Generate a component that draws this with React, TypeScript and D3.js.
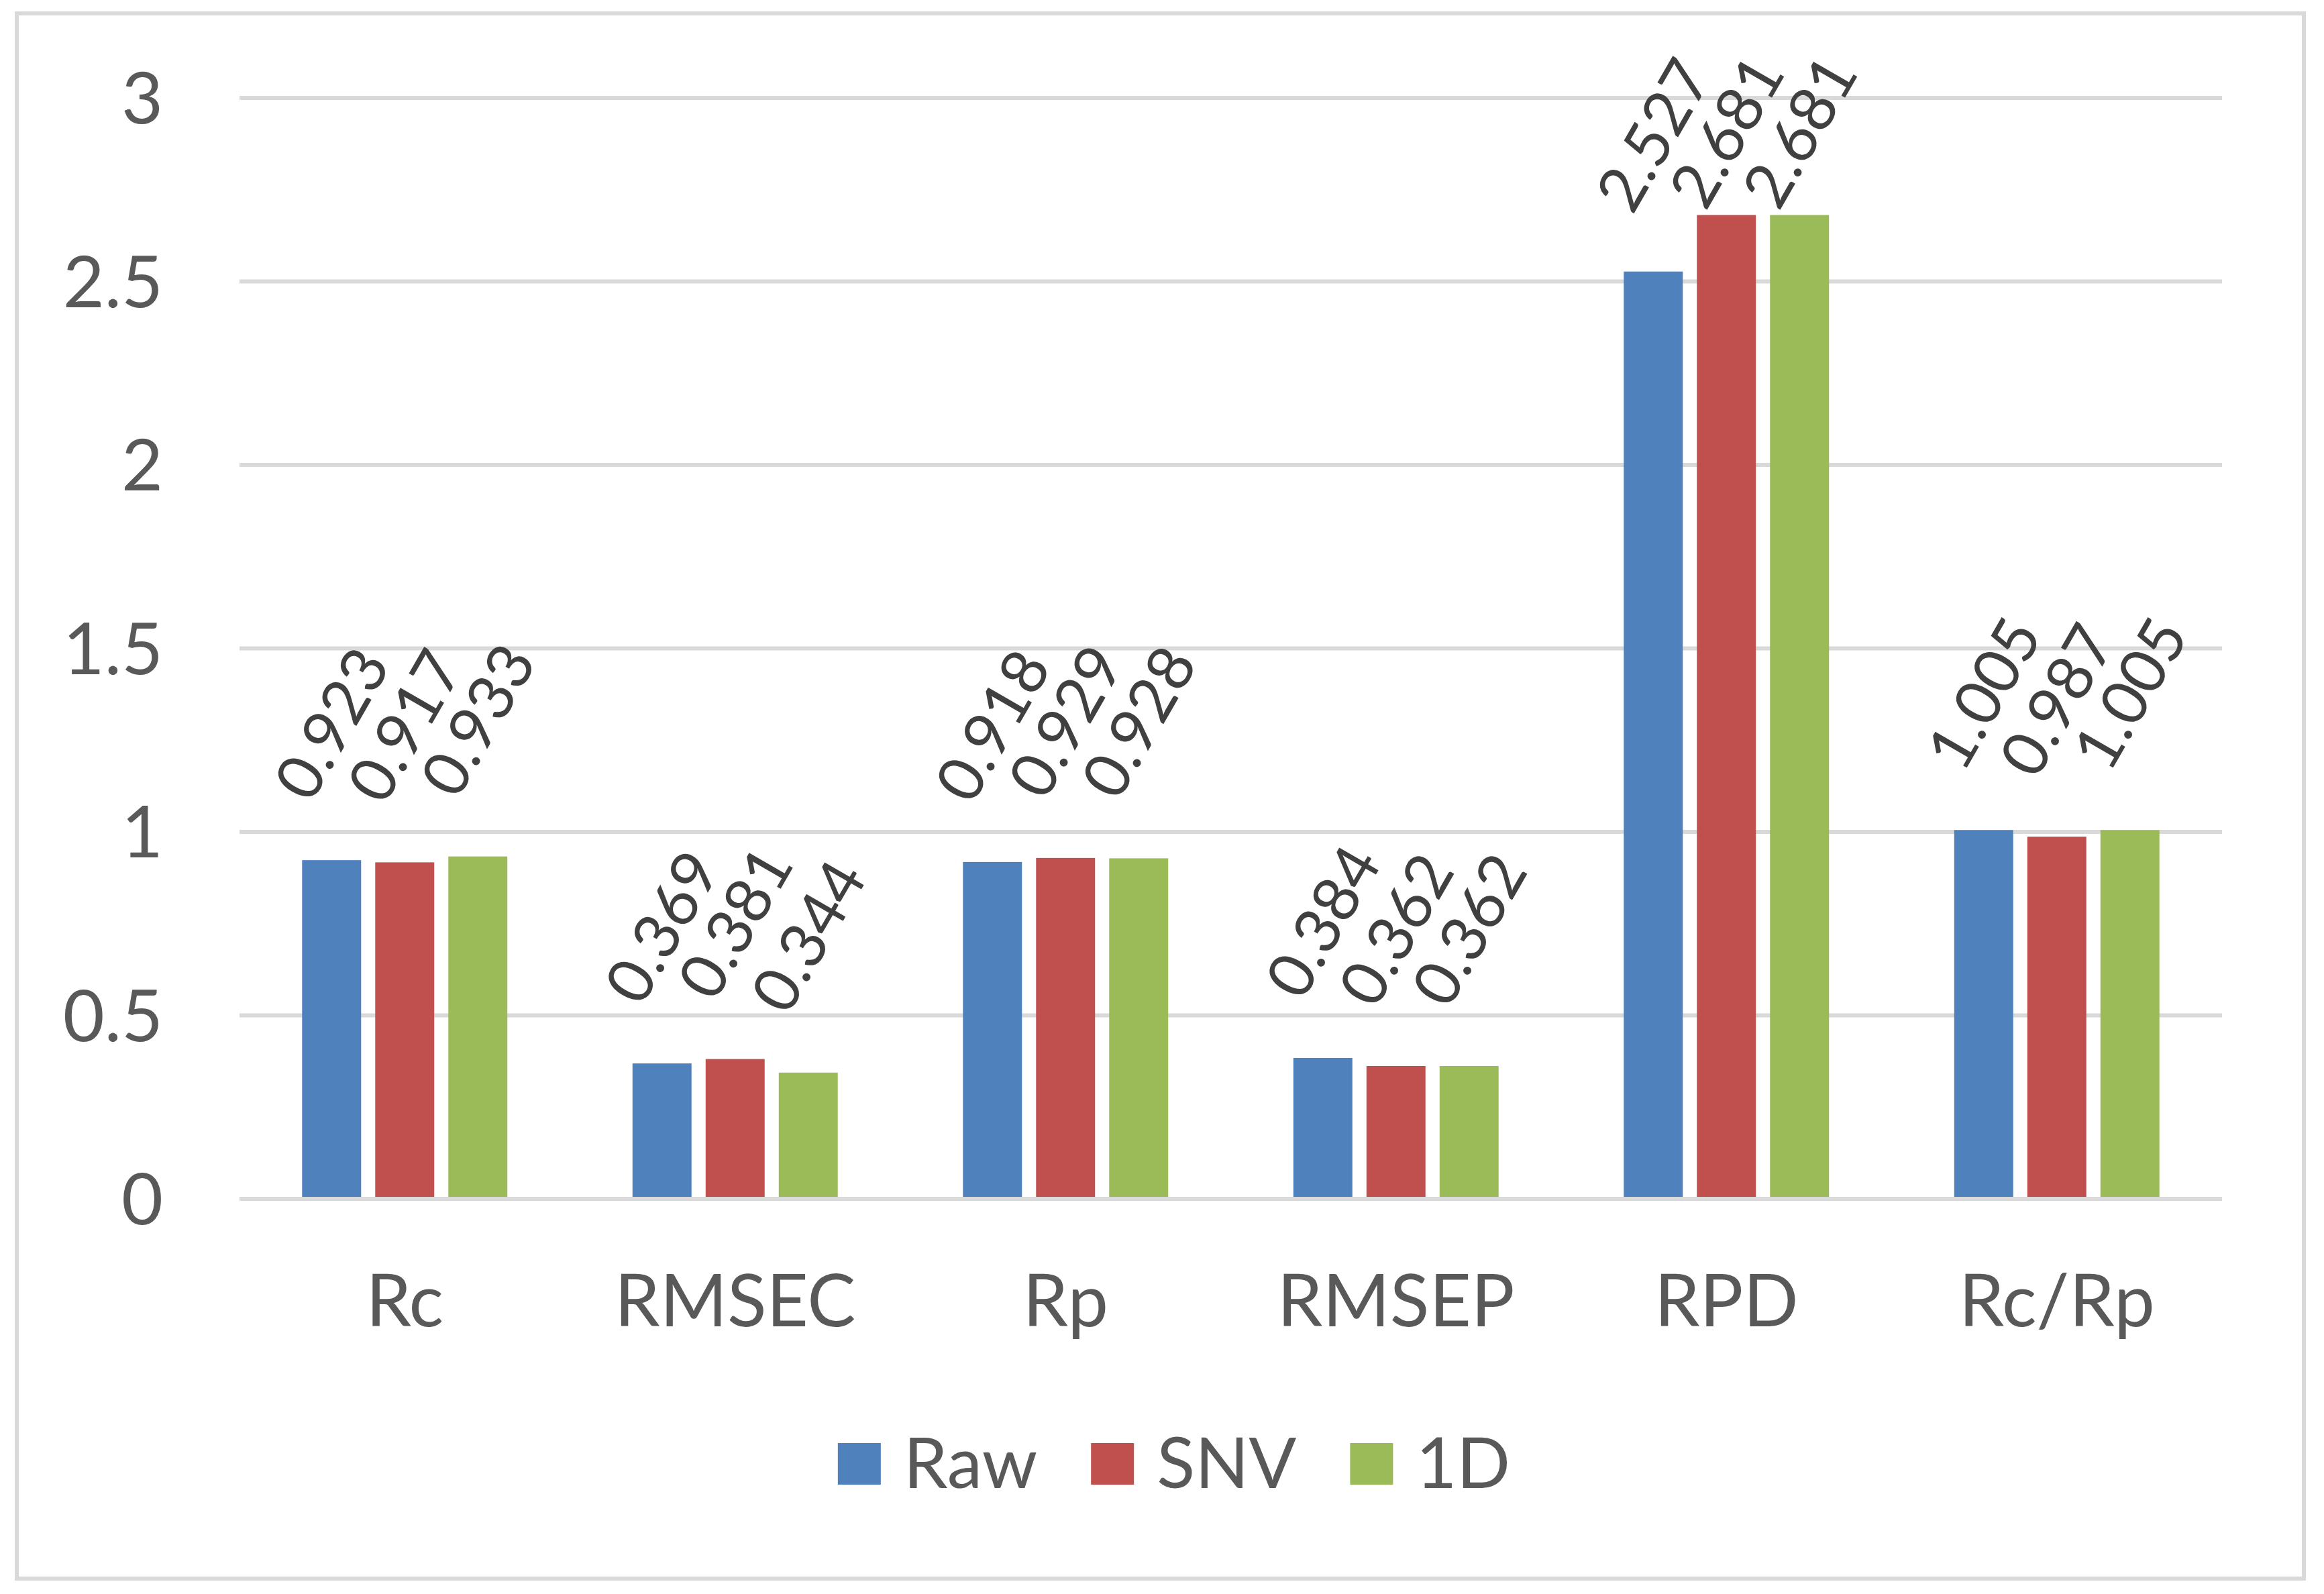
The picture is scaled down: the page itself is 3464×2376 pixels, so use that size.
import React, { useEffect, useRef } from 'react';
import * as d3 from 'd3';

const categories = ['Rc', 'RMSEC', 'Rp', 'RMSEP', 'RPD', 'Rc/Rp'];
const seriesNames = ['Raw', 'SNV', '1D'];
const rawValues = [0.923, 0.369, 0.918, 0.384, 2.527, 1.005];
const snvValues = [0.917, 0.381, 0.929, 0.362, 2.681, 0.987];
const d1Values = [0.933, 0.344, 0.928, 0.362, 2.681, 1.005];
const yTicks = [0, 0.5, 1, 1.5, 2, 2.5, 3];

const colors = ['#4F81BD', '#C0504D', '#9BBB59'];

const WIDTH = 3464;
const HEIGHT = 2376;

export default function App() {
  const svgRef = useRef<SVGSVGElement>(null);

  useEffect(() => {
    const svg = d3.select(svgRef.current);
    svg.selectAll('*').remove();

    const font = 'Lato, "Open Sans", sans-serif';
    const textColor = '#595959';
    const gridColor = '#D9D9D9';

    const plot = { left: 357, right: 3312, top: 146, bottom: 1787 };
    const values = [rawValues, snvValues, d1Values];

    const x0 = d3.scaleBand<string>()
      .domain(categories)
      .range([plot.left, plot.right])
      .padding(0);

    const x1 = d3.scaleBand<string>()
      .domain(seriesNames)
      .range([0, x0.bandwidth()])
      .paddingInner(0.193)
      .paddingOuter(0.856);

    const y = d3.scaleLinear()
      .domain([0, 3])
      .range([plot.bottom, plot.top]);

    // background + chart frame
    svg.append('rect')
      .attr('width', WIDTH)
      .attr('height', HEIGHT)
      .attr('fill', '#ffffff');

    svg.append('rect')
      .attr('x', 25)
      .attr('y', 20)
      .attr('width', 3434 - 25)
      .attr('height', 2353 - 20)
      .attr('fill', 'none')
      .attr('stroke', gridColor)
      .attr('stroke-width', 6);

    // gridlines
    svg.append('g')
      .selectAll('line')
      .data(yTicks)
      .join('line')
      .attr('x1', plot.left)
      .attr('x2', plot.right)
      .attr('y1', d => y(d))
      .attr('y2', d => y(d))
      .attr('stroke', gridColor)
      .attr('stroke-width', 6);

    // y tick labels
    svg.append('g')
      .selectAll('text')
      .data(yTicks)
      .join('text')
      .attr('x', plot.left - 114)
      .attr('y', d => y(d))
      .attr('dy', '0.358em')
      .attr('text-anchor', 'end')
      .style('font-family', font)
      .style('font-size', '107px')
      .style('fill', textColor)
      .text(d => String(d));

    // bars
    const groups = svg.append('g')
      .selectAll('g')
      .data(categories)
      .join('g')
      .attr('transform', d => `translate(${x0(d)},0)`);

    groups.selectAll('rect')
      .data((_, i) => seriesNames.map((s, k) => ({ s, v: values[k][i], k })))
      .join('rect')
      .attr('x', d => x1(d.s) as number)
      .attr('width', x1.bandwidth())
      .attr('y', d => y(d.v))
      .attr('height', d => y(0) - 3 - y(d.v))
      .attr('fill', d => colors[d.k]);

    // data labels, rotated 60deg
    const labelSize = 94;
    const fmt = d3.format('.3f');
    const angle = 60;
    const rad = (angle * Math.PI) / 180;
    const minTop = 78;
    const gap = 86;

    groups.each(function (cat, i) {
      const g = d3.select(this);
      seriesNames.forEach((s, k) => {
        const v = values[k][i];
        const cx = (x1(s) as number) + x1.bandwidth() / 2;
        const t = g.append('text')
          .attr('text-anchor', 'middle')
          .attr('dy', '0.358em')
          .style('font-family', font)
          .style('font-size', `${labelSize}px`)
          .style('fill', '#404040')
          .text(fmt(v));
        const L = (t.node() as SVGTextElement).getComputedTextLength() - 0.08 * labelSize;
        const H = 0.717 * labelSize;
        const half = (L * Math.sin(rad) + H * Math.cos(rad)) / 2;
        let cy = y(v) - gap - half;
        if (cy - half < minTop) cy = minTop + half;
        t.attr('transform', `translate(${cx},${cy}) rotate(${-angle})`);
      });
    });

    // category labels
    svg.append('g')
      .selectAll('text')
      .data(categories)
      .join('text')
      .attr('x', d => (x0(d) as number) + x0.bandwidth() / 2)
      .attr('y', 1977)
      .attr('text-anchor', 'middle')
      .style('font-family', font)
      .style('font-size', '108px')
      .style('fill', textColor)
      .text(d => d);

    // legend
    const legend = svg.append('g');
    const sq = 64;
    const sqGap = 34;
    const itemGap = 80;
    const legendBase = 2218;
    const items: { g: any; w: number }[] = [];
    seriesNames.forEach((s, k) => {
      const g = legend.append('g');
      g.append('rect')
        .attr('x', 0)
        .attr('y', 2183 - sq / 2)
        .attr('width', sq)
        .attr('height', sq - 2)
        .attr('fill', colors[k]);
      const t = g.append('text')
        .attr('x', sq + sqGap)
        .attr('y', legendBase)
        .style('font-family', font)
        .style('font-size', '105px')
        .style('fill', textColor)
        .text(s);
      const w = sq + sqGap + (t.node() as SVGTextElement).getComputedTextLength();
      items.push({ g, w });
    });
    const total = d3.sum(items, d => d.w) + itemGap * (items.length - 1);
    let cursor = 1750 - total / 2;
    items.forEach(it => {
      it.g.attr('transform', `translate(${cursor},0)`);
      cursor += it.w + itemGap;
    });
  }, []);

  return (
    <div style={{ position: 'absolute', left: 0, top: 0 }}>
      <svg ref={svgRef} width={WIDTH} height={HEIGHT} style={{ display: 'block' }} />
    </div>
  );
}
